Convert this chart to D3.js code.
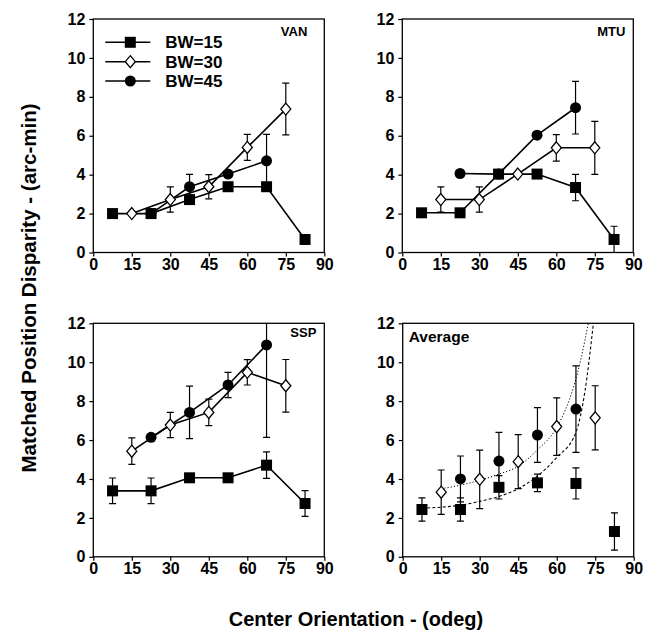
<!DOCTYPE html>
<html><head><meta charset="utf-8">
<script src="https://cdn.jsdelivr.net/npm/d3@7"></script>
<style>body{margin:0;background:#fff}svg{display:block}</style>
</head><body>
<svg id="c" width="659" height="635"></svg>
<script>
// ---------- data ----------
const xTicks = [0, 15, 30, 45, 60, 75, 90];
const yTicks = [0, 2, 4, 6, 8, 10, 12];
const panelNames = ["VAN", "MTU", "SSP", "Average"];
const seriesLabels = ["BW=15", "BW=30", "BW=45"];

const x15 = [7.5, 22.5, 37.5, 52.5, 67.5, 82.5];
const x30 = [15, 30, 45, 60, 75];
const x45 = [22.5, 37.5, 52.5, 67.5];

const vanBW15 = [2.0, 2.0, 2.72, 3.38, 3.38, 0.67];
const vanBW15Err = [0, 0, 0, 0, 0, 0];
const vanBW30 = [2.0, 2.72, 3.38, 5.40, 7.37];
const vanBW30Err = [0, 0.65, 0.62, 0.67, 1.33];
const vanBW45 = [2.0, 3.38, 4.03, 4.71];
const vanBW45Err = [0, 0.63, 0, 1.36];

const mtuBW15 = [2.04, 2.04, 4.03, 4.03, 3.34, 0.67];
const mtuBW15Err = [0, 0, 0, 0, 0.68, 0.68];
const mtuBW30 = [2.72, 2.72, 4.03, 5.38, 5.38];
const mtuBW30Err = [0.65, 0.65, 0, 0.68, 1.36];
const mtuBW45 = [4.06, 4.03, 6.03, 7.44];
const mtuBW45Err = [0, 0, 0, 1.35];

const sspBW15 = [3.39, 3.39, 4.06, 4.06, 4.71, 2.74];
const sspBW15Err = [0.66, 0.66, 0, 0, 0.68, 0.66];
const sspBW30 = [5.43, 6.77, 7.42, 9.48, 8.79];
const sspBW30Err = [0.68, 0.65, 0.68, 0.65, 1.35];
const sspBW45 = [6.14, 7.42, 8.83, 10.89];
const sspBW45Err = [0, 1.35, 0.65, 4.75];

const avgBW15 = [2.43, 2.43, 3.57, 3.8, 3.77, 1.3];
const avgBW15Err = [0.6, 0.6, 0.6, 0.45, 0.8, 0.96];
const avgBW30 = [3.32, 3.98, 4.89, 6.69, 7.14];
const avgBW30Err = [1.14, 1.5, 1.39, 1.48, 1.65];
const avgBW45 = [4.0, 4.92, 6.26, 7.59];
const avgBW45Err = [1.18, 1.47, 1.41, 2.22];

// fitted curves in the Average panel
const fitDotX = [15, 22.5, 30, 37.5, 45, 52.5, 60, 66.5, 69.5, 72.3];
const fitDotY = [3.5, 3.68, 3.93, 4.25, 4.65, 5.5, 6.65, 8.7, 10.2, 12];
const fitDashX = [7.5, 15, 22.5, 30, 37.5, 45, 52.5, 60, 67.5, 71, 74.3];
const fitDashY = [2.5, 2.55, 2.65, 2.85, 3.1, 3.5, 4.15, 5.1, 6.4, 8.5, 12];

// ---------- layout ----------
const FONT = "'Liberation Sans', Arial, Helvetica, sans-serif";
const pw = 231, ph = 233.5;
const origins = [[93.3, 19], [402.3, 19], [93.3, 323.3], [402.7, 323.3]];

const svg = d3.select("#c");
svg.append("rect").attr("width", 659).attr("height", 635).attr("fill", "#fff");

function mk(xs, ys, es) { return xs.map((x, i) => ({ x, y: ys[i], e: es[i] })); }
const panelData = [
  [mk(x15, vanBW15, vanBW15Err), mk(x30, vanBW30, vanBW30Err), mk(x45, vanBW45, vanBW45Err)],
  [mk(x15, mtuBW15, mtuBW15Err), mk(x30, mtuBW30, mtuBW30Err), mk(x45, mtuBW45, mtuBW45Err)],
  [mk(x15, sspBW15, sspBW15Err), mk(x30, sspBW30, sspBW30Err), mk(x45, sspBW45, sspBW45Err)],
  [mk(x15, avgBW15, avgBW15Err), mk(x30, avgBW30, avgBW30Err), mk(x45, avgBW45, avgBW45Err)]
];

function drawMarker(sel, kind, cx, cy) {
  if (kind === 0) {
    sel.append("rect").attr("x", cx - 5.5).attr("y", cy - 5.5).attr("width", 11).attr("height", 11)
      .attr("fill", "#000");
  } else if (kind === 1) {
    sel.append("path").attr("d", `M${cx},${cy - 6}L${cx + 5},${cy}L${cx},${cy + 6}L${cx - 5},${cy}Z`)
      .attr("fill", "#fff").attr("stroke", "#000").attr("stroke-width", 1.3);
  } else {
    sel.append("circle").attr("cx", cx).attr("cy", cy).attr("r", 5.5).attr("fill", "#000");
  }
}

panelNames.forEach((name, pi) => {
  const [ox, oy] = origins[pi];
  const g = svg.append("g").attr("transform", `translate(${ox},${oy})`);
  const x = d3.scaleLinear().domain([0, 90]).range([0, pw]);
  const y = d3.scaleLinear().domain([0, 12]).range([ph, 0]);

  const clipId = "clip" + pi;
  g.append("clipPath").attr("id", clipId).append("rect")
    .attr("x", -10).attr("y", 0).attr("width", pw + 20).attr("height", ph);

  // axes
  const ax = g.append("g").attr("transform", `translate(0,${ph})`)
    .call(d3.axisBottom(x).tickValues(xTicks).tickSize(4).tickSizeOuter(0).tickPadding(2));
  const ay = g.append("g")
    .call(d3.axisLeft(y).tickValues(yTicks).tickSize(4).tickSizeOuter(0).tickPadding(4));
  [ax, ay].forEach(a => {
    a.select(".domain").remove();
    a.selectAll("line").attr("stroke", "#000").attr("stroke-width", 1.2);
    a.selectAll("text").attr("font-family", FONT).attr("font-weight", "bold")
      .attr("font-size", 16).attr("fill", "#000");
  });
  g.append("rect").attr("width", pw).attr("height", ph).attr("fill", "none")
    .attr("stroke", "#000").attr("stroke-width", 1.3);

  const series = panelData[pi];
  const plot = g.append("g").attr("clip-path", `url(#${clipId})`);
  const isAvg = name === "Average";

  // fitted curves
  if (isAvg) {
    const line = d3.line().x(d => x(d[0])).y(d => y(d[1])).curve(d3.curveMonotoneX);
    plot.append("path").attr("d", line(fitDotX.map((v, i) => [v, fitDotY[i]])))
      .attr("fill", "none").attr("stroke", "#000").attr("stroke-width", 1)
      .attr("stroke-dasharray", "1.2,2");
    plot.append("path").attr("d", line(fitDashX.map((v, i) => [v, fitDashY[i]])))
      .attr("fill", "none").attr("stroke", "#000").attr("stroke-width", 1.1)
      .attr("stroke-dasharray", "3,2.2");
  }

  // connecting lines
  if (!isAvg) {
    const line = d3.line().x(d => x(d.x)).y(d => y(d.y));
    series.forEach(s => {
      plot.append("path").attr("d", line(s)).attr("fill", "none")
        .attr("stroke", "#000").attr("stroke-width", 1.6);
    });
  }

  // error bars
  series.forEach(s => {
    s.filter(d => d.e > 0).forEach(d => {
      const hi = d.y + d.e, lo = d.y - d.e;
      const cx = x(d.x);
      plot.append("line").attr("x1", cx).attr("x2", cx)
        .attr("y1", y(Math.min(hi, 12.5))).attr("y2", y(Math.max(lo, -0.5)))
        .attr("stroke", "#000").attr("stroke-width", 1.2);
      if (hi <= 12) plot.append("line").attr("x1", cx - 3.5).attr("x2", cx + 3.5)
        .attr("y1", y(hi)).attr("y2", y(hi)).attr("stroke", "#000").attr("stroke-width", 1.2);
      if (lo >= 0) plot.append("line").attr("x1", cx - 3.5).attr("x2", cx + 3.5)
        .attr("y1", y(lo)).attr("y2", y(lo)).attr("stroke", "#000").attr("stroke-width", 1.2);
    });
  });

  // markers: BW=45, BW=15, BW=30 order
  [2, 0, 1].forEach(k => {
    series[k].forEach(d => drawMarker(g, k, x(d.x), y(d.y)));
  });

  // panel label
  if (isAvg) {
    g.append("text").attr("x", 6).attr("y", 19).text(name)
      .attr("font-family", FONT).attr("font-weight", "bold").attr("font-size", 15.5);
  } else {
    const pad = pi === 0 ? 17 : 8;
    const ty = pi === 2 ? 14 : 17;
    g.append("text").attr("x", pw - pad).attr("y", ty).attr("text-anchor", "end").text(name)
      .attr("font-family", FONT).attr("font-weight", "bold").attr("font-size", 13);
  }

  // legend in first panel
  if (pi === 0) {
    const rows = [23.3, 42.7, 62];
    seriesLabels.forEach((lab, k) => {
      const ly = rows[k];
      g.append("line").attr("x1", 12).attr("x2", 57).attr("y1", ly).attr("y2", ly)
        .attr("stroke", "#000").attr("stroke-width", 1.6);
      drawMarker(g, k, 37, ly);
      g.append("text").attr("x", 72).attr("y", ly).attr("dy", "0.35em").text(lab)
        .attr("font-family", FONT).attr("font-weight", "bold").attr("font-size", 17);
    });
  }
});

// axis titles
svg.append("text").attr("transform", "translate(36,288) rotate(-90)")
  .attr("text-anchor", "middle").text("Matched Position Disparity - (arc-min)")
  .attr("font-family", FONT).attr("font-weight", "bold").attr("font-size", 20.5);
svg.append("text").attr("x", 356).attr("y", 626).attr("text-anchor", "middle")
  .text("Center Orientation - (odeg)")
  .attr("font-family", FONT).attr("font-weight", "bold").attr("font-size", 20);
</script>
</body></html>
